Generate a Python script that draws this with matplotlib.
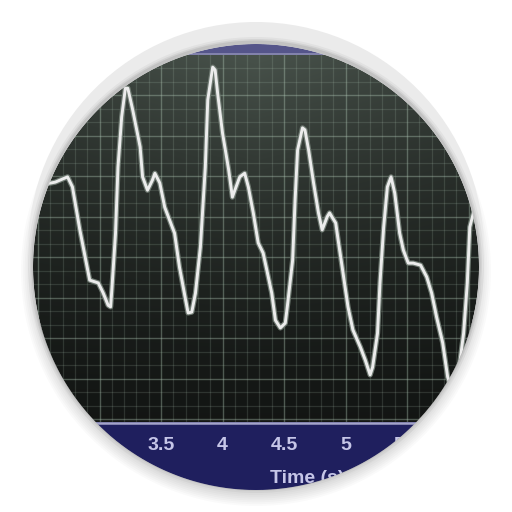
import matplotlib
matplotlib.use('Agg')
import matplotlib.pyplot as plt
import matplotlib.patches as mpatches
import matplotlib.patheffects as pe
from matplotlib.path import Path
from matplotlib.ticker import MultipleLocator
import numpy as np

# waveform (time in s, amplitude in grid units)
time_s = [2.52, 2.64, 2.74, 2.78, 2.84, 2.92, 2.99, 3.03, 3.07, 3.09, 3.10,
          3.13, 3.15, 3.18, 3.21, 3.23, 3.27, 3.33, 3.35, 3.39, 3.43, 3.45,
          3.49, 3.53, 3.57, 3.61, 3.65, 3.70, 3.72, 3.75, 3.78, 3.82, 3.86,
          3.88, 3.92, 3.94, 3.96, 4.00, 4.05, 4.08, 4.10, 4.14, 4.18, 4.21,
          4.25, 4.29, 4.33, 4.36, 4.40, 4.43, 4.47, 4.51, 4.53, 4.57, 4.59,
          4.61, 4.65, 4.67, 4.70, 4.74, 4.78, 4.81, 4.85, 4.87, 4.92, 4.94,
          4.98, 5.02, 5.06, 5.12, 5.16, 5.20, 5.22, 5.26, 5.28, 5.31, 5.34,
          5.37, 5.40, 5.44, 5.47, 5.51, 5.55, 5.61, 5.66, 5.70, 5.74, 5.79,
          5.83, 5.89, 5.96, 5.99, 6.01, 6.04, 6.09]
amplitude = [5.78, 5.85, 5.98, 5.73, 4.67, 3.43, 3.36, 3.11, 2.81, 2.77, 3.19,
             4.59, 6.22, 7.46, 8.17, 8.17, 7.63, 6.72, 5.98, 5.65, 5.90, 6.07,
             5.83, 5.23, 4.91, 4.59, 3.75, 2.94, 2.62, 2.64, 3.11, 4.25, 6.22,
             7.88, 8.69, 8.62, 8.05, 7.06, 6.15, 5.48, 5.65, 5.98, 6.07, 5.73,
             5.09, 4.35, 4.10, 3.68, 3.11, 2.44, 2.25, 2.37, 2.86, 3.93, 5.41,
             6.64, 7.19, 7.14, 6.64, 5.83, 5.09, 4.67, 4.99, 5.09, 4.84, 4.42,
             3.60, 2.77, 2.20, 1.78, 1.46, 1.09, 1.28, 2.12, 3.36, 4.74, 5.73,
             5.98, 5.58, 4.59, 4.17, 3.85, 3.85, 3.80, 3.51, 3.11, 2.52, 1.88,
             1.04, 0.47, 2.12, 3.36, 4.74, 5.09, 5.90]

tick_pos = [2.5, 3, 3.5, 4, 4.5, 5, 5.5, 6]
tick_text = ['2.5', '3', '3.5', '4', '4.5', '5', '5.5', '6']
x_label = 'Time (s)'

fig = plt.figure(figsize=(5.12, 5.12), dpi=100)
fig.patch.set_facecolor('white')

# pixel-space axes underneath: screen background and blue strips
bg = fig.add_axes([0, 0, 1, 1])
bg.set_xlim(0, 512)
bg.set_ylim(512, 0)
bg.axis('off')

gy, gx = np.mgrid[0:1:200j, 0:1:200j]
v = 0.075 + 0.22 * (1 - gy) ** 1.5 * (1 - 0.6 * np.abs(gx - 0.5))
rgb = np.dstack([v * 1.0, v * 1.14, v * 1.04]).clip(0, 1)
bg.imshow(rgb, extent=(32, 479, 422, 40), origin='upper', aspect='auto',
          interpolation='bilinear', zorder=2)
bg.add_patch(mpatches.Rectangle((32, 38), 447, 17, facecolor='#55558a', lw=0, zorder=3))
bg.plot([32, 479], [54, 54], color='#8c8cb4', lw=1.2, zorder=3)
bg.add_patch(mpatches.Rectangle((32, 422), 447, 80, facecolor='#1f1f5e', lw=0, zorder=3))
bg.plot([32, 479], [423, 423], color='#a4a4ca', lw=1.8, zorder=3)

# the actual chart
ax = fig.add_axes([32 / 512, 1 - 422 / 512, 447 / 512, 367 / 512])
ax.patch.set_visible(False)
ax.set_xlim(2.451, 6.085)
ax.set_ylim(-0.074, 8.99)
ax.set_xticks(tick_pos, tick_text)
ax.xaxis.set_minor_locator(MultipleLocator(0.1))
ax.yaxis.set_major_locator(MultipleLocator(1))
ax.yaxis.set_minor_locator(MultipleLocator(1 / 3))
ax.grid(which='major', color='#b0c8b6', alpha=0.38, lw=1.0)
ax.grid(which='minor', color='#b0c8b6', alpha=0.17, lw=0.9)
ax.tick_params(which='both', length=0)
ax.tick_params(axis='x', labelcolor='#c6c6e8', labelsize=14, pad=11)
ax.tick_params(axis='y', labelleft=False)
for lab in ax.get_xticklabels():
    lab.set_fontfamily('Liberation Sans')
    lab.set_fontweight('bold')
for s in ax.spines.values():
    s.set_visible(False)

ax.set_xlabel(x_label, fontsize=14, color='#c6c6e8', family='Liberation Sans',
              fontweight='bold', ha='left')
ax.xaxis.set_label_coords(0.532, -0.13)

ax.plot(time_s, amplitude, color='#ececec', lw=2.1, solid_joinstyle='round',
        path_effects=[pe.Stroke(linewidth=3.8, foreground='#6f7a72'), pe.Normal()])

# overlay: everything outside the round screen (white page, shadow, bezel)
fr = fig.add_axes([0, 0, 1, 1], zorder=10)
fr.set_xlim(0, 512)
fr.set_ylim(512, 0)
fr.axis('off')
fr.patch.set_visible(False)

cx, cy, cr = 256, 267, 223
th = np.linspace(0, 2 * np.pi, 721)
hole = np.column_stack([cx + cr * np.cos(th), cy - cr * np.sin(th)])
square = np.array([[-5, -5], [517, -5], [517, 517], [-5, 517], [-5, -5]])
verts = np.vstack([square, hole])
codes = ([Path.MOVETO] + [Path.LINETO] * 3 + [Path.CLOSEPOLY]
         + [Path.MOVETO] + [Path.LINETO] * (len(hole) - 2) + [Path.CLOSEPOLY])
outside = mpatches.PathPatch(Path(verts, codes), facecolor='white', lw=0)
fr.add_patch(outside)


def clipped(p):
    fr.add_patch(p)
    p.set_clip_path(outside)


# soft drop shadow under the button
for r in np.linspace(235, 224, 7):
    clipped(mpatches.Circle((256, 271), r, color='black', alpha=0.018, lw=0))
# light grey bezel, shaded a bit towards the screen edge
clipped(mpatches.Circle((256, 250), 228, facecolor='#ebebeb', lw=0))
for r, a in [(228, 0.04), (226, 0.06), (224.5, 0.08)]:
    clipped(mpatches.Circle((256, 265), r, color='black', alpha=a, lw=0))

fig.savefig('out.png', dpi=100)
